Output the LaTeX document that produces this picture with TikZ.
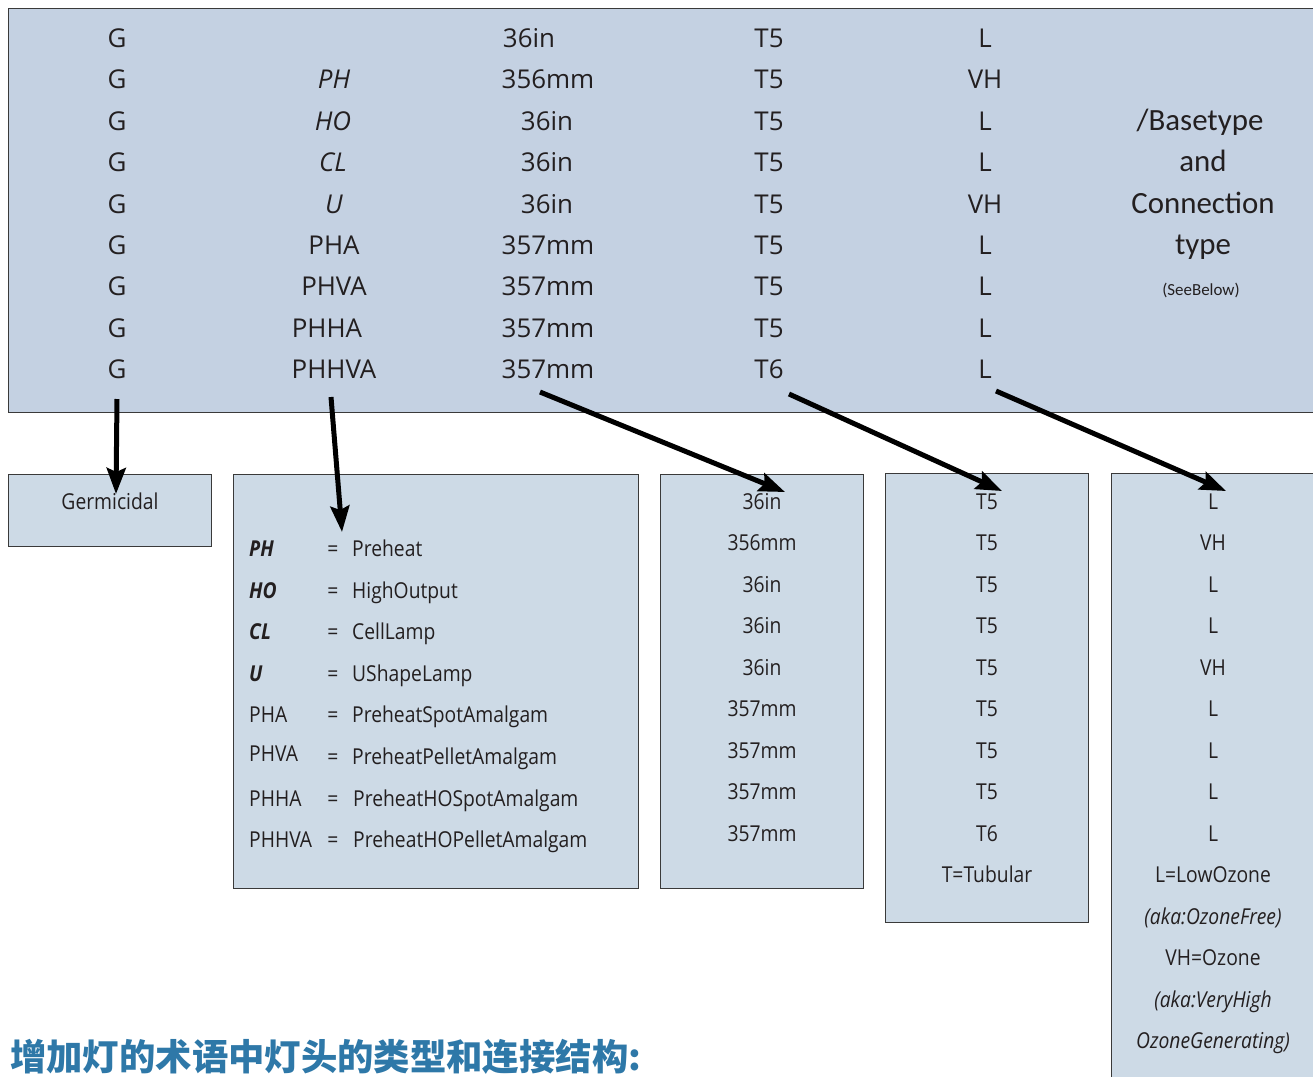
\documentclass[tikz,border=0pt]{standalone}
\usepackage{fontspec}
\setmainfont{Open Sans}
\newfontfamily\cjk{Noto Sans CJK SC}
\newfontfamily\calib{Carlito}
\newfontfamily\tight[FakeStretch=0.88]{Open Sans}
\usetikzlibrary{arrows.meta}
\definecolor{topfill}{HTML}{C4D1E2}
\definecolor{lowfill}{HTML}{CDDAE6}
\definecolor{bordercol}{HTML}{3A3A3A}
\definecolor{titlecol}{HTML}{2E78A8}
\definecolor{txt}{HTML}{231F20}
\tikzset{
  x=1bp, y=-1bp,
  boxstyle/.style={draw=bordercol, line width=1.3bp, anchor=north west, inner sep=0pt, minimum width=#1},
  topbox/.style={boxstyle=1312bp, fill=topfill, minimum height=404bp},
  lowbox/.style={boxstyle=#1, fill=lowfill},
  tt/.style={anchor=base, inner sep=0pt, text=txt, font=\fontsize{26}{30}\selectfont},
  ti/.style={tt, font=\fontsize{26}{30}\selectfont\itshape},
  rt/.style={anchor=base, inner sep=0pt, text=txt, font=\calib\fontsize{31}{35}\selectfont},
  lt/.style={anchor=base, inner sep=0pt, text=txt, font=\tight\fontsize{22}{26}\selectfont},
  ltl/.style={lt, anchor=base west},
  ltb/.style={lt, anchor=base west, font=\tight\fontsize{22}{26}\selectfont\bfseries\itshape},
  lti/.style={lt, font=\tight\fontsize{22}{26}\selectfont\itshape},
  arr/.style={line width=5bp, draw=black, -{Stealth[length=26bp,width=19bp,inset=4bp]}},
}
\begin{document}
\begin{tikzpicture}
\useasboundingbox (0,0) rectangle (1313,1076);
\fill[white] (0,0) rectangle (1313,1076);
% boxes
\node[topbox] (top) at (8,8) {};
\node[lowbox=203bp, minimum height=72bp] (bG) at (8,474) {};
\node[lowbox=405bp, minimum height=414bp] (bP) at (233,474) {};
\node[lowbox=203bp, minimum height=414bp] (bL) at (660,474) {};
\node[lowbox=203bp, minimum height=449bp] (bT) at (885,473) {};
\node[lowbox=220bp, minimum height=620bp] (bO) at (1111,473) {};
% top rows
\foreach \i/\c/\d/\e/\f in {
  1/36in/529/T5/L, 2/356mm/548/T5/VH, 3/36in/547/T5/L,
  4/36in/547/T5/L, 5/36in/547/T5/VH, 6/357mm/548/T5/L,
  7/357mm/548/T5/L, 8/357mm/548/T5/L, 9/357mm/548/T6/L} {
  \pgfmathsetmacro{\yy}{47.5+(\i-1)*41.4}
  \node[tt] (g\i) at (117,\yy) {G};
  \node[tt] (n\i) at (\d,\yy) {\c};
  \node[tt] (t\i) at (769,\yy) {\e};
  \node[tt] (o\i) at (985,\yy) {\f};
}
\node[ti] (c2) at (334,88.9) {PH};
\node[ti] (c3) at (333,130.3) {HO};
\node[ti] (c4) at (333,171.7) {CL};
\node[ti] (c5) at (334,213.1) {U};
\node[tt] (c6) at (334,254.5) {PHA};
\node[tt] (c7) at (334,295.9) {PHVA};
\node[tt] (c8) at (327,337.3) {PHHA};
\node[tt] (c9) at (334,378.7) {PHHVA};
\node[rt] (r1) at (1200,130) {/Basetype};
\node[rt] (r2) at (1203,171) {and};
\node[rt] (r3) at (1203,213) {Connection};
\node[rt] (r4) at (1203,254) {type};
\node[rt, font=\calib\fontsize{17}{19}\selectfont] (r5) at (1201,295) {(SeeBelow)};
% Germicidal
\node[lt] (germ) at (110,509) {Germicidal};
% box P
\node[ltb] (p1) at (249,556) {PH};
\node[ltb] (p2) at (249,598) {HO};
\node[ltb] (p3) at (249,639) {CL};
\node[ltb] (p4) at (249,681) {U};
\node[ltl] (p5) at (249,722) {PHA};
\node[ltl] (p6) at (249,761) {PHVA};
\node[ltl] (p7) at (249,806) {PHHA};
\node[ltl] (p8) at (249,847) {PHHVA};
\foreach \y/\t/\xx in {556/Preheat/352, 598/HighOutput/352, 639/CellLamp/352, 681/UShapeLamp/352,
  722/PreheatSpotAmalgam/352, 764/PreheatPelletAmalgam/352, 806/PreheatHOSpotAmalgam/353, 847/PreheatHOPelletAmalgam/353} {
  \node[lt] (eq\y) at (333,\y) {=};
  \node[ltl] (d\y) at (\xx,\y) {\t};
}
% box L
\foreach \i/\t in {1/36in,2/356mm,3/36in,4/36in,5/36in,6/357mm,7/357mm,8/357mm,9/357mm} {
  \pgfmathsetmacro{\yy}{509+(\i-1)*41.5}
  \node[lt] (l\i) at (762,\yy) {\t};
}
% box T
\foreach \i/\t in {1/T5,2/T5,3/T5,4/T5,5/T5,6/T5,7/T5,8/T5,9/T6,10/T=Tubular} {
  \pgfmathsetmacro{\yy}{509+(\i-1)*41.5}
  \node[lt] (tt\i) at (987,\yy) {\t};
}
% box O
\foreach \i/\t in {1/L,2/VH,3/L,4/L,5/VH,6/L,7/L,8/L,9/L,10/L=LowOzone,12/VH=Ozone} {
  \pgfmathsetmacro{\yy}{509+(\i-1)*41.5}
  \node[lt] (oo\i) at (1213,\yy) {\t};
}
\node[lti] (oo11) at (1213,924) {(aka:OzoneFree)};
\node[lti] (oo13) at (1213,1007) {(aka:VeryHigh};
\node[lti] (oo14) at (1213,1048) {OzoneGenerating)};
% title
\node[anchor=west, inner sep=0pt, text=titlecol, font=\cjk\fontsize{36.5}{40}\selectfont\bfseries] (title) at (10,1057) {增加灯的术语中灯头的类型和连接结构:};
% arrows
\coordinate (a1s) at (117,399); \coordinate (a1e) at (116,494);
\coordinate (a2s) at (331,397); \coordinate (a2e) at (342,532);
\coordinate (a3s) at (540,392); \coordinate (a3e) at (785,492);
\coordinate (a4s) at (789,394); \coordinate (a4e) at (1002,491);
\coordinate (a5s) at (996,391); \coordinate (a5e) at (1226,491);
\foreach \k in {1,...,5} { \draw[arr] (a\k s) -- (a\k e); }
\end{tikzpicture}
\end{document}
